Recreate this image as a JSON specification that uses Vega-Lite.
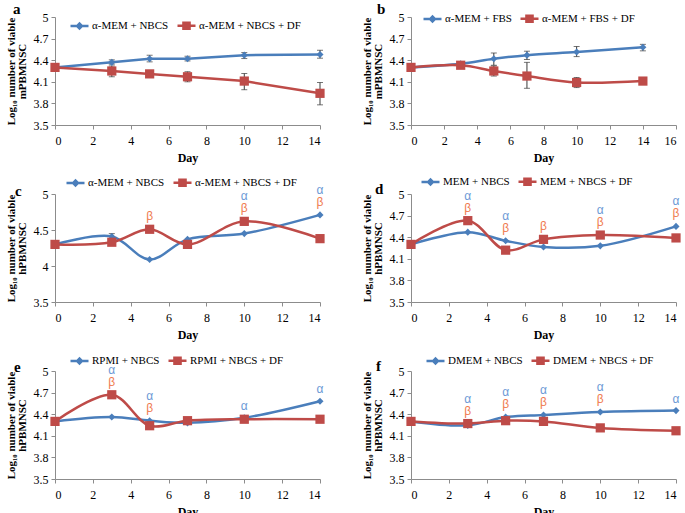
{
  "$schema": "https://vega.github.io/schema/vega-lite/v6.json",
  "background": "white",
  "padding": {"left": 5, "top": 2, "right": 0, "bottom": 0},
  "bounds": "flush",
  "columns": 2,
  "spacing": {"row": 69, "column": 91},
  "resolve": {"scale": {"color": "independent", "x": "independent", "y": "independent"}, "legend": {"color": "independent"}},
  "config": {
    "view": {"stroke": null},
    "axis": {"labelFont": "Liberation Serif", "labelFontSize": 12, "labelColor": "black", "titleFont": "Liberation Serif", "titleFontWeight": "bold", "titleColor": "black", "domainColor": "#8C8C8C", "tickColor": "#8C8C8C", "tickSize": 4, "grid": false},
    "axisX": {"labelPadding": 6, "titleFontSize": 12, "titlePadding": 6},
    "axisY": {"labelPadding": 3, "titleFontSize": 11, "titleLineHeight": 11, "titlePadding": 6},
    "title": {"font": "Liberation Serif", "fontSize": 15, "fontWeight": "bold", "color": "black", "orient": "bottom", "anchor": "start", "align": "left", "baseline": "middle", "frame": "group", "offset": -160},
    "legend": {"orient": "none", "direction": "horizontal", "gridAlign": "each", "title": null, "labelFont": "Liberation Serif", "labelFontSize": 11, "labelColor": "black", "symbolSize": 324, "symbolStrokeWidth": 2.5, "columnPadding": 3, "labelOffset": 2,
      "symbolType": "M-1,0H1"}
  },
  "datasets": {
    "main": [
      {"p":"a","s":"α-MEM + NBCS","g":"ctl","d":0,"v":4.30},
      {"p":"a","s":"α-MEM + NBCS","g":"ctl","d":3,"v":4.37,"lo":4.345,"hi":4.405},
      {"p":"a","s":"α-MEM + NBCS","g":"ctl","d":5,"v":4.42,"lo":4.377,"hi":4.469},
      {"p":"a","s":"α-MEM + NBCS","g":"ctl","d":7,"v":4.42,"lo":4.39,"hi":4.455},
      {"p":"a","s":"α-MEM + NBCS","g":"ctl","d":10,"v":4.47,"lo":4.423,"hi":4.506},
      {"p":"a","s":"α-MEM + NBCS","g":"ctl","d":14,"v":4.48,"lo":4.428,"hi":4.538},
      {"p":"a","s":"α-MEM + NBCS + DF","g":"df","d":0,"v":4.30},
      {"p":"a","s":"α-MEM + NBCS + DF","g":"df","d":3,"v":4.25,"lo":4.17,"hi":4.32},
      {"p":"a","s":"α-MEM + NBCS + DF","g":"df","d":5,"v":4.21,"lo":4.18,"hi":4.24},
      {"p":"a","s":"α-MEM + NBCS + DF","g":"df","d":7,"v":4.17,"lo":4.10,"hi":4.24},
      {"p":"a","s":"α-MEM + NBCS + DF","g":"df","d":10,"v":4.11,"lo":3.99,"hi":4.215},
      {"p":"a","s":"α-MEM + NBCS + DF","g":"df","d":14,"v":3.94,"lo":3.78,"hi":4.09},

      {"p":"b","s":"α-MEM + FBS","g":"ctl","d":0,"v":4.30},
      {"p":"b","s":"α-MEM + FBS","g":"ctl","d":3,"v":4.35,"lo":4.33,"hi":4.37},
      {"p":"b","s":"α-MEM + FBS","g":"ctl","d":5,"v":4.42,"lo":4.33,"hi":4.50},
      {"p":"b","s":"α-MEM + FBS","g":"ctl","d":7,"v":4.47,"lo":4.41,"hi":4.525},
      {"p":"b","s":"α-MEM + FBS","g":"ctl","d":10,"v":4.515,"lo":4.45,"hi":4.59},
      {"p":"b","s":"α-MEM + FBS","g":"ctl","d":14,"v":4.58,"lo":4.53,"hi":4.62},
      {"p":"b","s":"α-MEM + FBS + DF","g":"df","d":0,"v":4.30},
      {"p":"b","s":"α-MEM + FBS + DF","g":"df","d":3,"v":4.33},
      {"p":"b","s":"α-MEM + FBS + DF","g":"df","d":5,"v":4.25,"lo":4.18,"hi":4.32},
      {"p":"b","s":"α-MEM + FBS + DF","g":"df","d":7,"v":4.18,"lo":4.01,"hi":4.37},
      {"p":"b","s":"α-MEM + FBS + DF","g":"df","d":10,"v":4.09,"lo":4.02,"hi":4.16},
      {"p":"b","s":"α-MEM + FBS + DF","g":"df","d":14,"v":4.11,"lo":4.07,"hi":4.15},

      {"p":"c","s":"α-MEM + NBCS","g":"ctl","d":0,"v":4.30},
      {"p":"c","s":"α-MEM + NBCS","g":"ctl","d":3,"v":4.41,"lo":4.38,"hi":4.45},
      {"p":"c","s":"α-MEM + NBCS","g":"ctl","d":5,"v":4.09},
      {"p":"c","s":"α-MEM + NBCS","g":"ctl","d":7,"v":4.37},
      {"p":"c","s":"α-MEM + NBCS","g":"ctl","d":10,"v":4.45,"sig":"α"},
      {"p":"c","s":"α-MEM + NBCS","g":"ctl","d":14,"v":4.71,"sig":"α"},
      {"p":"c","s":"α-MEM + NBCS + DF","g":"df","d":0,"v":4.30},
      {"p":"c","s":"α-MEM + NBCS + DF","g":"df","d":3,"v":4.33},
      {"p":"c","s":"α-MEM + NBCS + DF","g":"df","d":5,"v":4.51,"sig":"β"},
      {"p":"c","s":"α-MEM + NBCS + DF","g":"df","d":7,"v":4.30},
      {"p":"c","s":"α-MEM + NBCS + DF","g":"df","d":10,"v":4.62,"sig":"β"},
      {"p":"c","s":"α-MEM + NBCS + DF","g":"df","d":14,"v":4.38,"sig":"β"},

      {"p":"d","s":"MEM + NBCS","g":"ctl","d":0,"v":4.30},
      {"p":"d","s":"MEM + NBCS","g":"ctl","d":3,"v":4.47,"sig":"α"},
      {"p":"d","s":"MEM + NBCS","g":"ctl","d":5,"v":4.35,"sig":"α"},
      {"p":"d","s":"MEM + NBCS","g":"ctl","d":7,"v":4.265},
      {"p":"d","s":"MEM + NBCS","g":"ctl","d":10,"v":4.28,"sig":"α"},
      {"p":"d","s":"MEM + NBCS","g":"ctl","d":14,"v":4.55,"sig":"α"},
      {"p":"d","s":"MEM + NBCS + DF","g":"df","d":0,"v":4.30},
      {"p":"d","s":"MEM + NBCS + DF","g":"df","d":3,"v":4.63,"sig":"β"},
      {"p":"d","s":"MEM + NBCS + DF","g":"df","d":5,"v":4.22,"sig":"β"},
      {"p":"d","s":"MEM + NBCS + DF","g":"df","d":7,"v":4.37,"sig":"β"},
      {"p":"d","s":"MEM + NBCS + DF","g":"df","d":10,"v":4.43,"sig":"β"},
      {"p":"d","s":"MEM + NBCS + DF","g":"df","d":14,"v":4.39,"sig":"β"},

      {"p":"e","s":"RPMI + NBCS","g":"ctl","d":0,"v":4.30},
      {"p":"e","s":"RPMI + NBCS","g":"ctl","d":3,"v":4.36,"sig":"α"},
      {"p":"e","s":"RPMI + NBCS","g":"ctl","d":5,"v":4.31,"sig":"α"},
      {"p":"e","s":"RPMI + NBCS","g":"ctl","d":7,"v":4.28},
      {"p":"e","s":"RPMI + NBCS","g":"ctl","d":10,"v":4.35,"sig":"α"},
      {"p":"e","s":"RPMI + NBCS","g":"ctl","d":14,"v":4.58,"sig":"α"},
      {"p":"e","s":"RPMI + NBCS + DF","g":"df","d":0,"v":4.30},
      {"p":"e","s":"RPMI + NBCS + DF","g":"df","d":3,"v":4.67,"sig":"β"},
      {"p":"e","s":"RPMI + NBCS + DF","g":"df","d":5,"v":4.24,"sig":"β"},
      {"p":"e","s":"RPMI + NBCS + DF","g":"df","d":7,"v":4.31},
      {"p":"e","s":"RPMI + NBCS + DF","g":"df","d":10,"v":4.33},
      {"p":"e","s":"RPMI + NBCS + DF","g":"df","d":14,"v":4.33},

      {"p":"f","s":"DMEM + NBCS","g":"ctl","d":0,"v":4.30},
      {"p":"f","s":"DMEM + NBCS","g":"ctl","d":3,"v":4.245,"sig":"α"},
      {"p":"f","s":"DMEM + NBCS","g":"ctl","d":5,"v":4.36,"sig":"α"},
      {"p":"f","s":"DMEM + NBCS","g":"ctl","d":7,"v":4.39,"sig":"α"},
      {"p":"f","s":"DMEM + NBCS","g":"ctl","d":10,"v":4.43,"sig":"α"},
      {"p":"f","s":"DMEM + NBCS","g":"ctl","d":14,"v":4.45,"sig":"α"},
      {"p":"f","s":"DMEM + NBCS + DF","g":"df","d":0,"v":4.30},
      {"p":"f","s":"DMEM + NBCS + DF","g":"df","d":3,"v":4.27,"sig":"β"},
      {"p":"f","s":"DMEM + NBCS + DF","g":"df","d":5,"v":4.31,"sig":"β"},
      {"p":"f","s":"DMEM + NBCS + DF","g":"df","d":7,"v":4.30,"sig":"β"},
      {"p":"f","s":"DMEM + NBCS + DF","g":"df","d":10,"v":4.21,"sig":"β"},
      {"p":"f","s":"DMEM + NBCS + DF","g":"df","d":14,"v":4.17}
    ]
  },
  "concat": [
    {
      "width": 265, "height": 108,
      "title": {"text": "a", "dx": -42, "dy": -1},
      "data": {"name": "main"},
      "transform": [{"filter": "datum.p == 'a'"}, {"joinaggregate": [{"op": "max", "field": "v", "as": "ymax"}, {"op": "valid", "field": "sig", "as": "nsig"}], "groupby": ["d"]}],
      "encoding": {
        "x": {"field": "d", "type": "quantitative", "scale": {"domain": [0, 14], "nice": false}, "axis": {"values": [0, 2, 4, 6, 8, 10, 12, 14], "format": "d", "title": "Day"}},
        "y": {"field": "v", "type": "quantitative", "scale": {"domain": [3.5, 5], "nice": false, "zero": false}, "axis": {"values": [3.5, 3.8, 4.1, 4.4, 4.7, 5], "format": "~g", "title": ["Log₁₀ number of viable", "mPBMNSC"]}}
      },
      "layer": [
        {"mark": {"type": "line", "interpolate": "linear", "strokeWidth": 2.5}, "encoding": {"color": {"field": "s", "type": "nominal", "scale": {"range": ["#4A7EBB", "#BE4B48"]}, "legend": {"legendX": 14, "legendY": -2, "encode": {"symbols": {"update": {"shape": {"signal": "test(/DF/, datum.value) ? 'M-1,0H1M-0.34,-0.34H0.34V0.34H-0.34Z' : 'M-1,0H1M-0.27,0L0,-0.27L0.27,0L0,0.27Z'"}, "fill": {"signal": "test(/DF/, datum.value) ? '#C0504D' : '#4F81BD'"}, "stroke": {"signal": "test(/DF/, datum.value) ? '#BE4B48' : '#4A7EBB'"}, "strokeWidth": {"value": 2.5}, "opacity": {"value": 1}}}}}}}},
        {"transform": [{"filter": "isValid(datum.lo)"}], "mark": {"type": "errorbar", "ticks": {"size": 6}, "color": "#3A3A3A"}, "encoding": {"y": {"field": "lo", "type": "quantitative"}, "y2": {"field": "hi"}}},
        {"transform": [{"filter": "datum.g == 'ctl'"}], "mark": {"type": "point", "shape": "diamond", "filled": true, "size": 50, "opacity": 1}, "encoding": {"color": {"field": "s", "type": "nominal"}}},
        {"transform": [{"filter": "datum.g == 'df'"}], "mark": {"type": "point", "shape": "square", "filled": true, "size": 85, "opacity": 1}, "encoding": {"color": {"field": "s", "type": "nominal"}}}
      ]
    },
    {
      "width": 265, "height": 108,
      "title": {"text": "b", "dx": -34, "dy": -1},
      "data": {"name": "main"},
      "transform": [{"filter": "datum.p == 'b'"}],
      "encoding": {
        "x": {"field": "d", "type": "quantitative", "scale": {"domain": [0, 16], "nice": false}, "axis": {"values": [0, 2, 4, 6, 8, 10, 12, 14, 16], "format": "d", "title": "Day"}},
        "y": {"field": "v", "type": "quantitative", "scale": {"domain": [3.5, 5], "nice": false, "zero": false}, "axis": {"values": [3.5, 3.8, 4.1, 4.4, 4.7, 5], "format": "~g", "title": ["Log₁₀ number of viable", "mPBMNSC"]}}
      },
      "layer": [
        {"mark": {"type": "line", "interpolate": "catmull-rom", "strokeWidth": 2.5}, "encoding": {"color": {"field": "s", "type": "nominal", "scale": {"range": ["#4A7EBB", "#BE4B48"]}, "legend": {"legendX": 11, "legendY": -9, "encode": {"symbols": {"update": {"shape": {"signal": "test(/DF/, datum.value) ? 'M-1,0H1M-0.34,-0.34H0.34V0.34H-0.34Z' : 'M-1,0H1M-0.27,0L0,-0.27L0.27,0L0,0.27Z'"}, "fill": {"signal": "test(/DF/, datum.value) ? '#C0504D' : '#4F81BD'"}, "stroke": {"signal": "test(/DF/, datum.value) ? '#BE4B48' : '#4A7EBB'"}, "strokeWidth": {"value": 2.5}, "opacity": {"value": 1}}}}}}}},
        {"transform": [{"filter": "isValid(datum.lo)"}], "mark": {"type": "errorbar", "ticks": {"size": 6}, "color": "#3A3A3A"}, "encoding": {"y": {"field": "lo", "type": "quantitative"}, "y2": {"field": "hi"}}},
        {"transform": [{"filter": "datum.g == 'ctl'"}], "mark": {"type": "point", "shape": "diamond", "filled": true, "size": 50, "opacity": 1}, "encoding": {"color": {"field": "s", "type": "nominal"}}},
        {"transform": [{"filter": "datum.g == 'df'"}], "mark": {"type": "point", "shape": "square", "filled": true, "size": 85, "opacity": 1}, "encoding": {"color": {"field": "s", "type": "nominal"}}}
      ]
    },
    {
      "width": 265, "height": 108,
      "title": {"text": "c", "dx": -40, "dy": 4},
      "data": {"name": "main"},
      "transform": [{"filter": "datum.p == 'c'"}, {"joinaggregate": [{"op": "max", "field": "v", "as": "ymax"}, {"op": "valid", "field": "sig", "as": "nsig"}], "groupby": ["d"]}],
      "encoding": {
        "x": {"field": "d", "type": "quantitative", "scale": {"domain": [0, 14], "nice": false}, "axis": {"values": [0, 2, 4, 6, 8, 10, 12, 14], "format": "d", "title": "Day"}},
        "y": {"field": "v", "type": "quantitative", "scale": {"domain": [3.5, 5], "nice": false, "zero": false}, "axis": {"values": [3.5, 4, 4.5, 5], "format": "~g", "title": ["Log₁₀ number of viable", "hPBMNSC"]}}
      },
      "layer": [
        {"mark": {"type": "line", "interpolate": "catmull-rom", "strokeWidth": 2.5}, "encoding": {"color": {"field": "s", "type": "nominal", "scale": {"range": ["#4A7EBB", "#BE4B48"]}, "legend": {"legendX": 10, "legendY": -22, "encode": {"symbols": {"update": {"shape": {"signal": "test(/DF/, datum.value) ? 'M-1,0H1M-0.34,-0.34H0.34V0.34H-0.34Z' : 'M-1,0H1M-0.27,0L0,-0.27L0.27,0L0,0.27Z'"}, "fill": {"signal": "test(/DF/, datum.value) ? '#C0504D' : '#4F81BD'"}, "stroke": {"signal": "test(/DF/, datum.value) ? '#BE4B48' : '#4A7EBB'"}, "strokeWidth": {"value": 2.5}, "opacity": {"value": 1}}}}}}}},
        {"transform": [{"filter": "isValid(datum.lo)"}], "mark": {"type": "errorbar", "ticks": {"size": 6}, "color": "#3A3A3A"}, "encoding": {"y": {"field": "lo", "type": "quantitative"}, "y2": {"field": "hi"}}},
        {"transform": [{"filter": "datum.g == 'ctl'"}], "mark": {"type": "point", "shape": "diamond", "filled": true, "size": 50, "opacity": 1}, "encoding": {"color": {"field": "s", "type": "nominal"}}},
        {"transform": [{"filter": "datum.g == 'df'"}], "mark": {"type": "point", "shape": "square", "filled": true, "size": 85, "opacity": 1}, "encoding": {"color": {"field": "s", "type": "nominal"}}},
        {"transform": [{"filter": "datum.sig == 'β'"}], "mark": {"type": "text", "dy": -13, "font": "Liberation Sans", "fontSize": 12, "color": "#EF7B4F", "baseline": "middle"}, "encoding": {"y": {"field": "ymax", "type": "quantitative"}, "text": {"field": "sig"}}},
        {"transform": [{"filter": "datum.sig == 'α' && datum.nsig == 2"}], "mark": {"type": "text", "dy": -25, "font": "Liberation Sans", "fontSize": 12, "color": "#6D9AD6", "baseline": "middle"}, "encoding": {"y": {"field": "ymax", "type": "quantitative"}, "text": {"field": "sig"}}},
        {"transform": [{"filter": "datum.sig == 'α' && datum.nsig == 1"}], "mark": {"type": "text", "dy": -12, "font": "Liberation Sans", "fontSize": 12, "color": "#6D9AD6", "baseline": "middle"}, "encoding": {"y": {"field": "ymax", "type": "quantitative"}, "text": {"field": "sig"}}}
      ]
    },
    {
      "width": 265, "height": 108,
      "title": {"text": "d", "dx": -36, "dy": 2},
      "data": {"name": "main"},
      "transform": [{"filter": "datum.p == 'd'"}, {"joinaggregate": [{"op": "max", "field": "v", "as": "ymax"}, {"op": "valid", "field": "sig", "as": "nsig"}], "groupby": ["d"]}],
      "encoding": {
        "x": {"field": "d", "type": "quantitative", "scale": {"domain": [0, 14], "nice": false}, "axis": {"values": [0, 2, 4, 6, 8, 10, 12, 14], "format": "d", "title": "Day"}},
        "y": {"field": "v", "type": "quantitative", "scale": {"domain": [3.5, 5], "nice": false, "zero": false}, "axis": {"values": [3.5, 3.8, 4.1, 4.4, 4.7, 5], "format": "~g", "title": ["Log₁₀ number of viable", "hPBMNSC"]}}
      },
      "layer": [
        {"mark": {"type": "line", "interpolate": "catmull-rom", "strokeWidth": 2.5}, "encoding": {"color": {"field": "s", "type": "nominal", "scale": {"range": ["#4A7EBB", "#BE4B48"]}, "legend": {"legendX": 9, "legendY": -23, "encode": {"symbols": {"update": {"shape": {"signal": "test(/DF/, datum.value) ? 'M-1,0H1M-0.34,-0.34H0.34V0.34H-0.34Z' : 'M-1,0H1M-0.27,0L0,-0.27L0.27,0L0,0.27Z'"}, "fill": {"signal": "test(/DF/, datum.value) ? '#C0504D' : '#4F81BD'"}, "stroke": {"signal": "test(/DF/, datum.value) ? '#BE4B48' : '#4A7EBB'"}, "strokeWidth": {"value": 2.5}, "opacity": {"value": 1}}}}}}}},
        {"transform": [{"filter": "datum.g == 'ctl'"}], "mark": {"type": "point", "shape": "diamond", "filled": true, "size": 50, "opacity": 1}, "encoding": {"color": {"field": "s", "type": "nominal"}}},
        {"transform": [{"filter": "datum.g == 'df'"}], "mark": {"type": "point", "shape": "square", "filled": true, "size": 85, "opacity": 1}, "encoding": {"color": {"field": "s", "type": "nominal"}}},
        {"transform": [{"filter": "datum.sig == 'β'"}], "mark": {"type": "text", "dy": -13, "font": "Liberation Sans", "fontSize": 12, "color": "#EF7B4F", "baseline": "middle"}, "encoding": {"y": {"field": "ymax", "type": "quantitative"}, "text": {"field": "sig"}}},
        {"transform": [{"filter": "datum.sig == 'α' && datum.nsig == 2"}], "mark": {"type": "text", "dy": -25, "font": "Liberation Sans", "fontSize": 12, "color": "#6D9AD6", "baseline": "middle"}, "encoding": {"y": {"field": "ymax", "type": "quantitative"}, "text": {"field": "sig"}}},
        {"transform": [{"filter": "datum.sig == 'α' && datum.nsig == 1"}], "mark": {"type": "text", "dy": -12, "font": "Liberation Sans", "fontSize": 12, "color": "#6D9AD6", "baseline": "middle"}, "encoding": {"y": {"field": "ymax", "type": "quantitative"}, "text": {"field": "sig"}}}
      ]
    },
    {
      "width": 265, "height": 108,
      "title": {"text": "e", "dx": -41, "dy": 3},
      "data": {"name": "main"},
      "transform": [{"filter": "datum.p == 'e'"}, {"joinaggregate": [{"op": "max", "field": "v", "as": "ymax"}, {"op": "valid", "field": "sig", "as": "nsig"}], "groupby": ["d"]}],
      "encoding": {
        "x": {"field": "d", "type": "quantitative", "scale": {"domain": [0, 14], "nice": false}, "axis": {"values": [0, 2, 4, 6, 8, 10, 12, 14], "format": "d", "title": "Day"}},
        "y": {"field": "v", "type": "quantitative", "scale": {"domain": [3.5, 5], "nice": false, "zero": false}, "axis": {"values": [3.5, 3.8, 4.1, 4.4, 4.7, 5], "format": "~g", "title": ["Log₁₀ number of viable", "hPBMNSC"]}}
      },
      "layer": [
        {"mark": {"type": "line", "interpolate": "catmull-rom", "strokeWidth": 2.5}, "encoding": {"color": {"field": "s", "type": "nominal", "scale": {"range": ["#4A7EBB", "#BE4B48"]}, "legend": {"legendX": 14, "legendY": -21, "encode": {"symbols": {"update": {"shape": {"signal": "test(/DF/, datum.value) ? 'M-1,0H1M-0.34,-0.34H0.34V0.34H-0.34Z' : 'M-1,0H1M-0.27,0L0,-0.27L0.27,0L0,0.27Z'"}, "fill": {"signal": "test(/DF/, datum.value) ? '#C0504D' : '#4F81BD'"}, "stroke": {"signal": "test(/DF/, datum.value) ? '#BE4B48' : '#4A7EBB'"}, "strokeWidth": {"value": 2.5}, "opacity": {"value": 1}}}}}}}},
        {"transform": [{"filter": "datum.g == 'ctl'"}], "mark": {"type": "point", "shape": "diamond", "filled": true, "size": 50, "opacity": 1}, "encoding": {"color": {"field": "s", "type": "nominal"}}},
        {"transform": [{"filter": "datum.g == 'df'"}], "mark": {"type": "point", "shape": "square", "filled": true, "size": 85, "opacity": 1}, "encoding": {"color": {"field": "s", "type": "nominal"}}},
        {"transform": [{"filter": "datum.sig == 'β'"}], "mark": {"type": "text", "dy": -13, "font": "Liberation Sans", "fontSize": 12, "color": "#EF7B4F", "baseline": "middle"}, "encoding": {"y": {"field": "ymax", "type": "quantitative"}, "text": {"field": "sig"}}},
        {"transform": [{"filter": "datum.sig == 'α' && datum.nsig == 2"}], "mark": {"type": "text", "dy": -25, "font": "Liberation Sans", "fontSize": 12, "color": "#6D9AD6", "baseline": "middle"}, "encoding": {"y": {"field": "ymax", "type": "quantitative"}, "text": {"field": "sig"}}},
        {"transform": [{"filter": "datum.sig == 'α' && datum.nsig == 1"}], "mark": {"type": "text", "dy": -12, "font": "Liberation Sans", "fontSize": 12, "color": "#6D9AD6", "baseline": "middle"}, "encoding": {"y": {"field": "ymax", "type": "quantitative"}, "text": {"field": "sig"}}}
      ]
    },
    {
      "width": 265, "height": 108,
      "title": {"text": "f", "dx": -35, "dy": 2},
      "data": {"name": "main"},
      "transform": [{"filter": "datum.p == 'f'"}, {"joinaggregate": [{"op": "max", "field": "v", "as": "ymax"}, {"op": "valid", "field": "sig", "as": "nsig"}], "groupby": ["d"]}],
      "encoding": {
        "x": {"field": "d", "type": "quantitative", "scale": {"domain": [0, 14], "nice": false}, "axis": {"values": [0, 2, 4, 6, 8, 10, 12, 14], "format": "d", "title": "Day"}},
        "y": {"field": "v", "type": "quantitative", "scale": {"domain": [3.5, 5], "nice": false, "zero": false}, "axis": {"values": [3.5, 3.8, 4.1, 4.4, 4.7, 5], "format": "~g", "title": ["Log₁₀ number of viable", "hPBMNSC"]}}
      },
      "layer": [
        {"mark": {"type": "line", "interpolate": "catmull-rom", "strokeWidth": 2.5}, "encoding": {"color": {"field": "s", "type": "nominal", "scale": {"range": ["#4A7EBB", "#BE4B48"]}, "legend": {"legendX": 14, "legendY": -21, "encode": {"symbols": {"update": {"shape": {"signal": "test(/DF/, datum.value) ? 'M-1,0H1M-0.34,-0.34H0.34V0.34H-0.34Z' : 'M-1,0H1M-0.27,0L0,-0.27L0.27,0L0,0.27Z'"}, "fill": {"signal": "test(/DF/, datum.value) ? '#C0504D' : '#4F81BD'"}, "stroke": {"signal": "test(/DF/, datum.value) ? '#BE4B48' : '#4A7EBB'"}, "strokeWidth": {"value": 2.5}, "opacity": {"value": 1}}}}}}}},
        {"transform": [{"filter": "datum.g == 'ctl'"}], "mark": {"type": "point", "shape": "diamond", "filled": true, "size": 50, "opacity": 1}, "encoding": {"color": {"field": "s", "type": "nominal"}}},
        {"transform": [{"filter": "datum.g == 'df'"}], "mark": {"type": "point", "shape": "square", "filled": true, "size": 85, "opacity": 1}, "encoding": {"color": {"field": "s", "type": "nominal"}}},
        {"transform": [{"filter": "datum.sig == 'β'"}], "mark": {"type": "text", "dy": -13, "font": "Liberation Sans", "fontSize": 12, "color": "#EF7B4F", "baseline": "middle"}, "encoding": {"y": {"field": "ymax", "type": "quantitative"}, "text": {"field": "sig"}}},
        {"transform": [{"filter": "datum.sig == 'α' && datum.nsig == 2"}], "mark": {"type": "text", "dy": -25, "font": "Liberation Sans", "fontSize": 12, "color": "#6D9AD6", "baseline": "middle"}, "encoding": {"y": {"field": "ymax", "type": "quantitative"}, "text": {"field": "sig"}}},
        {"transform": [{"filter": "datum.sig == 'α' && datum.nsig == 1"}], "mark": {"type": "text", "dy": -12, "font": "Liberation Sans", "fontSize": 12, "color": "#6D9AD6", "baseline": "middle"}, "encoding": {"y": {"field": "ymax", "type": "quantitative"}, "text": {"field": "sig"}}}
      ]
    }
  ]
}
